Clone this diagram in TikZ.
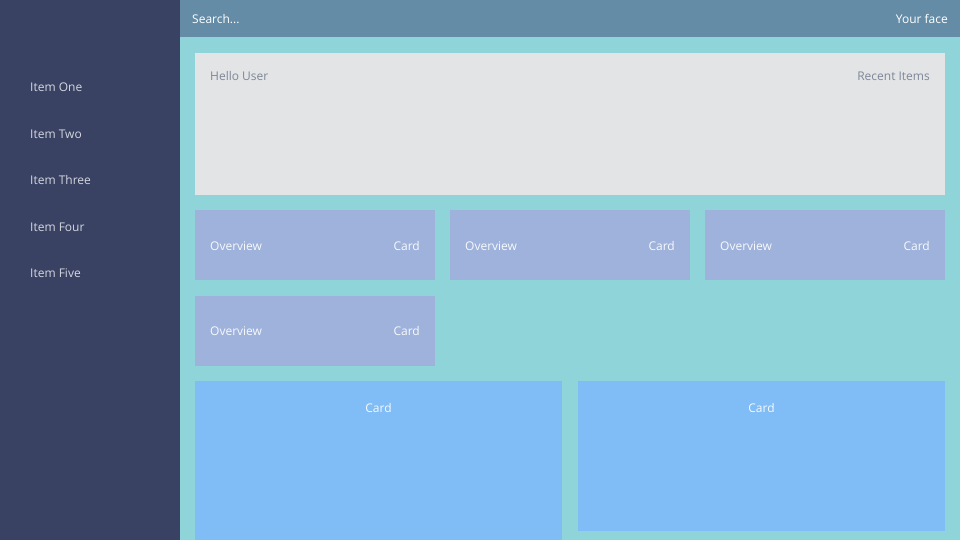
\documentclass[tikz,border=0pt]{standalone}
\usepackage{fontspec}
\setmainfont{Open Sans}
\usetikzlibrary{positioning,calc}
\definecolor{sidebg}{HTML}{394263}
\definecolor{headbg}{HTML}{648CA6}
\definecolor{mainbg}{HTML}{8ED4D8}
\definecolor{hellobg}{HTML}{E3E4E6}
\definecolor{overbg}{HTML}{9EB2DB}
\definecolor{cardbg}{HTML}{80BCF5}
\definecolor{itemtxt}{HTML}{D3D6E0}
\definecolor{greytxt}{HTML}{7D8799}
\begin{document}
\begin{tikzpicture}[x=1pt,y=-1pt,
    panel/.style={draw=none,inner sep=0pt,outer sep=0pt,anchor=north west},
    label/.style={inner sep=0pt,font=\fontsize{12}{14}\selectfont}]
  \useasboundingbox (0,0) rectangle (960,540);
  \fill[mainbg] (0,0) rectangle (960,540);

  \begin{scope}[every node/.style={panel}]
    \node[fill=sidebg,minimum width=180pt,minimum height=540pt] (side) at (0,0) {};
    \node[fill=headbg,minimum width=780pt,minimum height=37pt] (head) at (180,0) {};
    \node[fill=hellobg,minimum width=750pt,minimum height=142pt] (hello) at (195,53) {};
    \node[fill=overbg,minimum width=240pt,minimum height=70pt] (ov1) at (195,210) {};
    \node[fill=overbg,minimum width=240pt,minimum height=70pt] (ov2) at (450,210) {};
    \node[fill=overbg,minimum width=240pt,minimum height=70pt] (ov3) at (705,210) {};
    \node[fill=overbg,minimum width=240pt,minimum height=70pt] (ov4) at (195,295.5) {};
    \node[fill=cardbg,minimum width=367pt,minimum height=159pt] (card1) at (195,381) {};
    \node[fill=cardbg,minimum width=367pt,minimum height=150pt] (card2) at (578,381) {};
  \end{scope}

  \begin{scope}[every node/.style={label}]
    \node[white,anchor=west] (search) at (192,19) {Search...};
    \node[white,anchor=east] (face) at (948,19) {Your face};
    \node[greytxt,anchor=west] (user) at (210,76) {Hello User};
    \node[greytxt,anchor=east] (recent) at (930,76) {Recent Items};

    \foreach \name/\txt/\y in {i1/One/87.5,i2/Two/134,i3/Three/180.5,i4/Four/227,i5/Five/273.5}
      \node[itemtxt,anchor=west] (\name) at (30,\y) {Item \txt};

    \foreach \pnl in {ov1,ov2,ov3,ov4} {
      \node[white!92!overbg,anchor=west] (\pnl-l) at ($(\pnl.west)+(15,0.8)$) {Overview};
      \node[white!92!overbg,anchor=east] (\pnl-r) at ($(\pnl.east)+(-15,0.8)$) {Card};
    }

    \node[white!92!cardbg] (c1txt) at ($(card1.north)+(0,27)$) {Card};
    \node[white!92!cardbg] (c2txt) at ($(card2.north)+(0,27)$) {Card};
  \end{scope}
\end{tikzpicture}
\end{document}
